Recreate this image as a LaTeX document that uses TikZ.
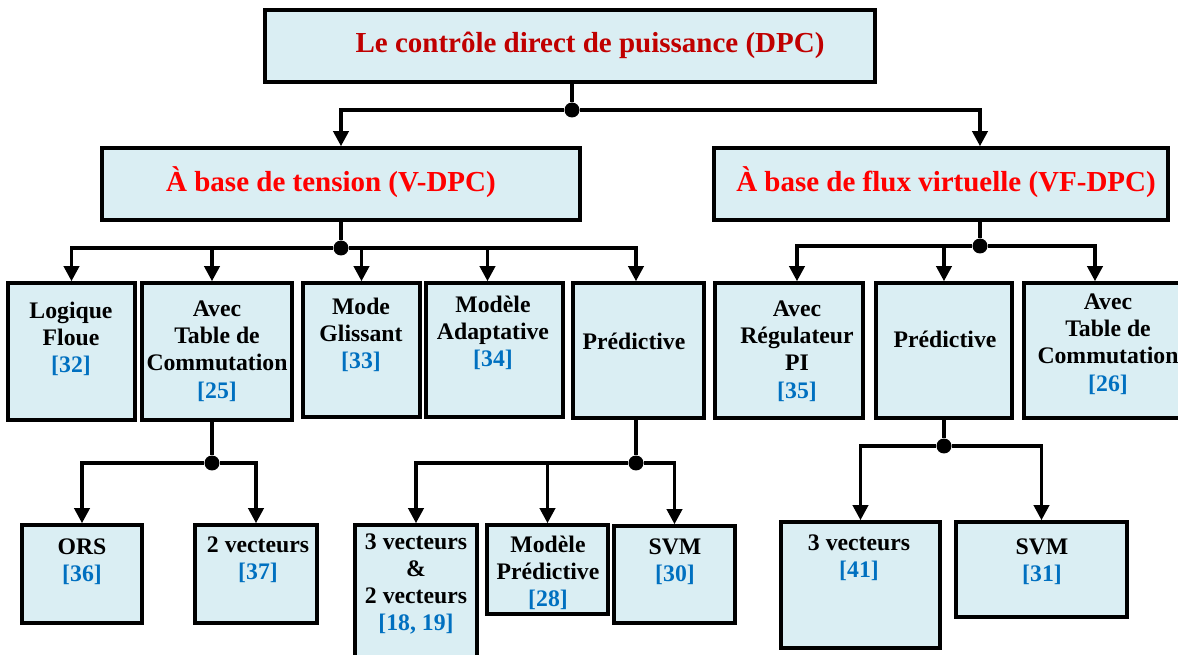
\documentclass[tikz,border=0pt]{standalone}
\usepackage{fontspec}
\setmainfont{Liberation Serif}
\usepackage{tikz}
\usetikzlibrary{positioning,arrows.meta,fit}

\definecolor{boxfill}{RGB}{218,238,243}
\definecolor{darkred}{RGB}{192,0,0}
\definecolor{refblue}{RGB}{0,112,192}

\newcommand{\cit}[1]{\textcolor{refblue}{[#1]}}

\begin{document}
\begin{tikzpicture}[
			x=0.02cm,y=-0.02cm,
			font=\bfseries\fontsize{13.5}{15.5}\selectfont,
			box/.style={rectangle,draw,line width=2pt,fill=boxfill,inner sep=0pt},
			txt/.style={align=center},
			head/.style={font=\bfseries\fontsize{16.5}{19}\selectfont,text=red},
			dot/.style={circle,fill,inner sep=0pt,minimum size=0.3cm},
			link/.style={line width=2pt},
			arr/.style={line width=2pt,-{Triangle[length=0.3cm,width=0.3cm]}},
			]
			\useasboundingbox (0,0) rectangle (1178,655);
			
			% Root
			\node[box,fit={(265,10) (875,82)}] (dpc) {};
			\node[head,text=darkred] (dpct) at (590,45) {Le contrôle direct de puissance (DPC)};
			
			% Voltage based / virtual flux based
			\node[box,fit={(102,148) (580,220)}] (vdpc) {};
			\node[head] (vdpct) at (331,182) {À base de tension (V-DPC)};
			\node[box,fit={(714,148) (1168,220)}] (vfdpc) {};
			\node[head] (vfdpct) at (946,182) {À base de flux virtuelle (VF-DPC)};
			
			% V-DPC methods
			\node[box,fit={(8,283) (135,420)}] (lf) {};
			\node[txt] (lft) at (71,339) {Logique\\Floue\\\cit{32}};
			\node[box,fit={(142,283) (292,420)}] (tc) {};
			\node[txt] (tct) at (217,351) {Avec\\Table de\\Commutation\\\cit{25}};
			\node[box,fit={(303,283) (420,417)}] (mg) {};
			\node[txt] (mgt) at (361,335) {Mode\\Glissant\\\cit{33}};
			\node[box,fit={(426,283) (563,417)}] (ma) {};
			\node[txt] (mat) at (493,333) {Modèle\\Adaptative\\\cit{34}};
			\node[box,fit={(573,283) (704,418)}] (pv) {};
			\node[txt] (pvt) at (634,341) {Prédictive};
			
			% VF-DPC methods
			\node[box,fit={(715,283) (863,418)}] (pi) {};
			\node[txt] (pit) at (797,351) {Avec\\Régulateur\\PI\\\cit{35}};
			\node[box,fit={(876,283) (1012,418)}] (pf) {};
			\node[txt] (pft) at (945,339) {Prédictive};
			\node[box,fit={(1024,283) (1192,418)}] (tf) {};
			\node[txt] (tft) at (1108,344) {Avec\\Table de\\Commutation\\\cit{26}};
			
			% Sub-methods
			\node[box,fit={(22,525) (142,623)}] (ors) {};
			\node[txt] (orst) at (82,562) {ORS\\\cit{36}};
			\node[box,fit={(195,525) (317,623)}] (vt) {};
			\node[txt] (vtt) at (258,560) {2 vecteurs\\\cit{37}};
			\node[box,fit={(355,525) (477,672)}] (vtt) {};
			\node[txt] (vttt) at (416,584) {3 vecteurs\\\&\\2 vecteurs\\\cit{18, 19}};
			\node[box,fit={(487,525) (608,614)}] (mp) {};
			\node[txt] (mpt) at (548,573) {Modèle\\Prédictive\\\cit{28}};
			\node[box,fit={(614,526) (735,623)}] (svmv) {};
			\node[txt] (svmvt) at (675,562) {SVM\\\cit{30}};
			\node[box,fit={(781,522) (940,648)}] (vtf) {};
			\node[txt] (vtft) at (859,558) {3 vecteurs\\\cit{41}};
			\node[box,fit={(956,522) (1127,617)}] (svmf) {};
			\node[txt] (svmft) at (1042,562) {SVM\\\cit{31}};
			
			% Junctions
			\node[dot] (jroot) at (572,110) {};
			\node[dot] (jv) at (341,248) {};
			\node[dot] (jvf) at (980,246) {};
			\node[dot] (jtc) at (212,463) {};
			\node[dot] (jpv) at (636,463) {};
			\node[dot] (jpf) at (944,446) {};
			
			% Connections
			\draw[link] (dpc.south -| jroot) -- (jroot);
			\draw[arr] (jroot) -| (vdpc.north);
			\draw[arr] (jroot) -| (vfdpc.north -| jvf);
			
			\draw[link] (vdpc.south -| jv) -- (jv);
			\draw[arr] (jv) -| (lf.north);
			\draw[arr] (jv) -| (tc.north -| jtc);
			\draw[arr] (jv) -| (mg.north);
			\draw[arr] (jv) -| ([xshift=-0.14cm]ma.north);
			\draw[arr] (jv) -| (pv.north -| jpv);
			
			\draw[link] (vfdpc.south -| jvf) -- (jvf);
			\draw[arr] (jvf) -| (pi.north -| pit);
			\draw[arr] (jvf) -| (pf.north -| jpf);
			\draw[arr] (jvf) -| ([xshift=-0.26cm]tf.north);
			
			\draw[link] (tc.south -| jtc) -- (jtc);
			\draw[arr] (jtc) -| (ors.north);
			\draw[arr] (jtc) -| (vt.north);
			
			\draw[link] (pv.south -| jpv) -- (jpv);
			\draw[arr] (jpv) -| (vtt.north);
			\draw[arr] (jpv) -| (mp.north);
			\draw[arr] (jpv) -| (svmv.north);
			
			\draw[link] (pf.south -| jpf) -- (jpf);
			\draw[arr] (jpf) -| (vtf.north);
			\draw[arr] (jpf) -| (svmf.north);
			
		\end{tikzpicture}
\end{document}
